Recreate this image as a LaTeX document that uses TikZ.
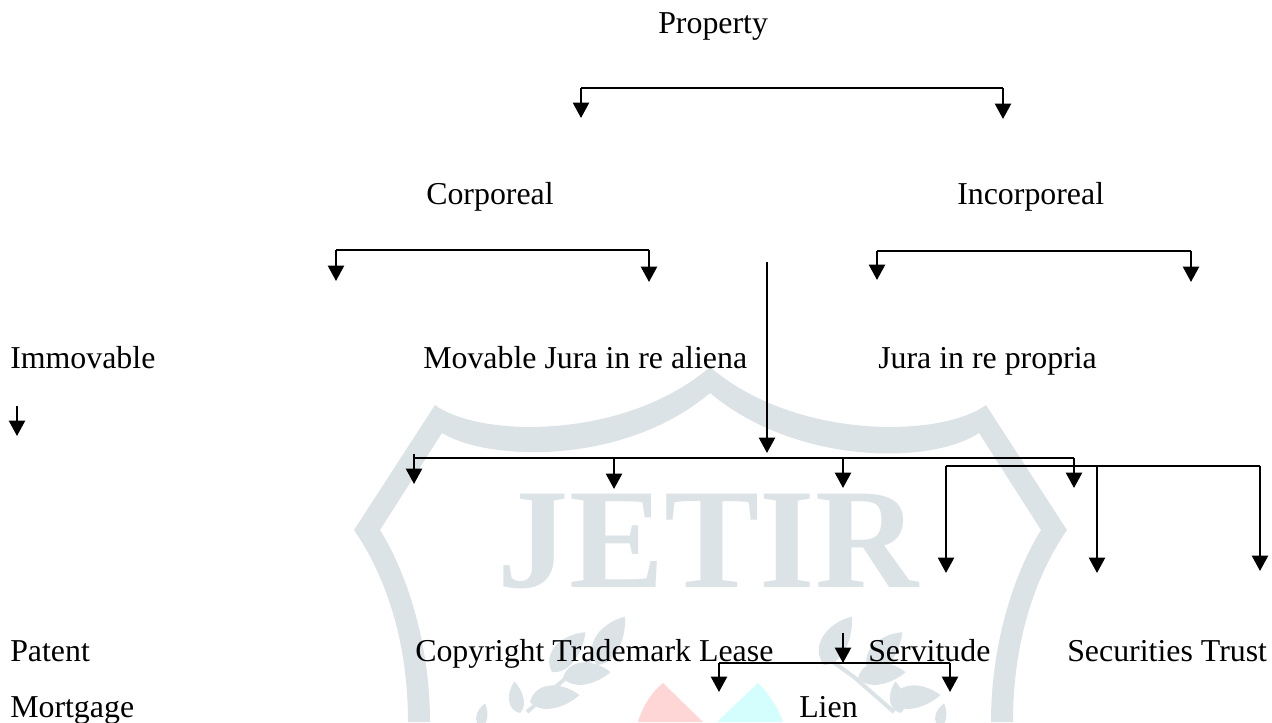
\documentclass[tikz,border=0pt]{standalone}
\usepackage{fontspec}
\setmainfont{Liberation Serif}
\usepackage{xcolor}
\usepackage{tikz}
\usetikzlibrary{arrows.meta}
\definecolor{wmark}{HTML}{DCE3E7}
\definecolor{wpink}{HTML}{FFD6D6}
\definecolor{wcyan}{HTML}{D4FDFD}
\tikzset{
  lbl/.style={anchor=base west,inner sep=0pt,font=\fontsize{23.9}{26}\selectfont},
  conn/.style={line width=1.7pt,-{Triangle[width=12pt,length=11.5pt]}},
  link/.style={line width=1.5pt},
  leaf/.pic={\fill[wmark] (0,0) .. controls (6,-15) and (26,-14) .. (40,0) .. controls (28,8) and (8,12) .. (0,0) -- cycle;},
  laurel/.pic={
    \draw[wmark,line width=3pt] (0,0) -- (40,-35) -- (72,-58);
    \pic[rotate=60,scale=1.4] at (70,-47) {leaf};
    \pic[rotate=50,scale=1.3] at (25,-40) {leaf};
    \pic[rotate=7,scale=1.2] at (36,-34) {leaf};
    \pic[rotate=100,scale=.8] at (-7,1) {leaf};
    \pic[rotate=8,scale=1.25] at (3,-10) {leaf};
    \pic[rotate=80,scale=.6] at (-46,15) {leaf};
  }
}
\begin{document}
\begin{tikzpicture}[x=0.75pt,y=-0.75pt]
  \useasboundingbox (0,0) rectangle (1272,722);
  % watermark
  \fill[wmark] (408,722) .. controls (408,640) and (385,575) .. (354,530) -- (435,405)
    .. controls (480,438) and (625,440) .. (710,367)
    .. controls (795,440) and (941,438) .. (986,405) -- (1067,530)
    .. controls (1036,575) and (1013,640) .. (1013,722) -- (991,722)
    .. controls (991,640) and (1016,570) .. (1041,530) -- (979,433)
    .. controls (931,465) and (796,465) .. (710,393)
    .. controls (625,465) and (490,462) .. (442,433) -- (380,530)
    .. controls (405,570) and (430,640) .. (430,722) -- cycle;
  \node (jetir) [anchor=base,inner sep=0pt,text=wmark,font=\fontsize{107}{110}\selectfont\bfseries] at (708,587) {JETIR};
  \fill[wpink] (638,722) .. controls (643,705) and (652,692) .. (663,683) -- (703,722) -- cycle;
  \fill[wcyan] (717,722) -- (758,683) .. controls (770,695) and (778,708) .. (783,722) -- cycle;
  \pic at (527,712) {laurel};
  \pic[xscale=-1] at (894,712) {laurel};
  % labels
  \node (prop) [lbl] at (658,33) {Property};
  \node (corp) [lbl] at (426,204) {Corporeal};
  \node (incorp) [lbl] at (957,204) {Incorporeal};
  \node (immov) [lbl] at (10,368) {Immovable};
  \node (mov) [lbl] at (423,368) {Movable Jura in re aliena};
  \node (prop2) [lbl] at (878,368) {Jura in re propria};
  \node (patent) [lbl] at (10,661) {Patent};
  \node (copy) [lbl] at (415,661) {Copyright Trademark Lease};
  \node (serv) [lbl] at (868,661) {Servitude};
  \node (secur) [lbl] at (1067,661) {Securities Trust};
  \node (mort) [lbl] at (10,717) {Mortgage};
  \node (lien) [lbl] at (799,717) {Lien};
  % bar ends and arrow ends
  \coordinate (b1l) at (581,88);  \coordinate (b1r) at (1003,88);
  \coordinate (t1l) at (581,118); \coordinate (t1r) at (1003,119);
  \coordinate (b2l) at (336,250); \coordinate (b2r) at (649,250);
  \coordinate (t2l) at (336,281); \coordinate (t2r) at (649,282);
  \coordinate (b3l) at (877,251); \coordinate (b3r) at (1191,251);
  \coordinate (t3l) at (877,280); \coordinate (t3r) at (1191,282);
  \coordinate (s1) at (767,262);  \coordinate (t4) at (767,453);
  \coordinate (s2) at (17,406);   \coordinate (t5) at (17,436);
  \coordinate (b6l) at (414,458); \coordinate (b6r) at (1074,458);
  \coordinate (s6l) at (414,454); \coordinate (t6a) at (414,484);
  \coordinate (b6b) at (614,458); \coordinate (t6b) at (614,489);
  \coordinate (b6c) at (843,458); \coordinate (t6c) at (843,488);
  \coordinate (t6d) at (1074,488);
  \coordinate (b7l) at (946,466); \coordinate (b7m) at (1097,466); \coordinate (b7r) at (1260,466);
  \coordinate (t7l) at (946,573); \coordinate (t7m) at (1097,573); \coordinate (t7r) at (1260,571);
  \coordinate (s8) at (843,633);  \coordinate (t8) at (843,663);
  \coordinate (b9l) at (719,663); \coordinate (b9r) at (950,663);
  \coordinate (t9l) at (719,692); \coordinate (t9r) at (950,692);
  % connectors
  \draw[link] (b1l)--(b1r); \draw[conn] (b1l)--(t1l); \draw[conn] (b1r)--(t1r);
  \draw[link] (b2l)--(b2r); \draw[conn] (b2l)--(t2l); \draw[conn] (b2r)--(t2r);
  \draw[link] (b3l)--(b3r); \draw[conn] (b3l)--(t3l); \draw[conn] (b3r)--(t3r);
  \draw[conn] (s1)--(t4);
  \draw[conn] (s2)--(t5);
  \draw[link] (b6l)--(b6r); \draw[conn] (s6l)--(t6a); \draw[conn] (b6b)--(t6b);
  \draw[conn] (b6c)--(t6c); \draw[conn] (b6r)--(t6d);
  \draw[link] (b7l)--(b7r); \draw[conn] (b7l)--(t7l); \draw[conn] (b7m)--(t7m); \draw[conn] (b7r)--(t7r);
  \draw[conn] (s8)--(t8);
  \draw[link] (b9l)--(b9r); \draw[conn] (b9l)--(t9l); \draw[conn] (b9r)--(t9r);
\end{tikzpicture}
\end{document}
